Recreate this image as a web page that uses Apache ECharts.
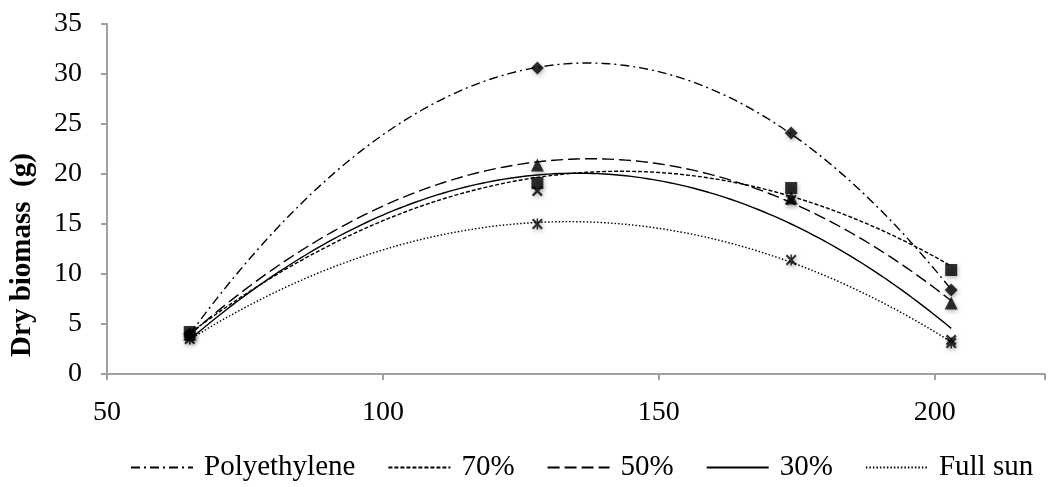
<!DOCTYPE html>
<html>
<head>
<meta charset="utf-8">
<script src="https://cdn.jsdelivr.net/npm/echarts@6/dist/echarts.min.js"></script>
<style>html,body{margin:0;padding:0;background:#fff}#c{width:1048px;height:487px}</style>
</head>
<body>
<div id="c"></div>
<script>
const xValues = [65, 128, 174, 203];
const seriesNames = ['Polyethylene', '70%', '50%', '30%', 'Full sun'];
const polyethylene = [4.0, 30.6, 24.1, 8.4];
const shade70 = [4.2, 19.1, 18.6, 10.4];
const shade50 = [4.0, 20.9, 17.6, 7.1];
const shade30 = [3.8, 18.3, 17.4, 3.4];
const fullSun = [3.5, 15.0, 11.4, 3.1];
const xTicks = [50, 100, 150, 200];
const yTicks = [0, 5, 10, 15, 20, 25, 30, 35];

const allData = [polyethylene, shade70, shade50, shade30, fullSun];
const dashes = [[9, 4, 2, 4], [4, 2], [12, 5], 'solid', [1.5, 2]];
const symbols = [
  'diamond', 'rect', 'triangle',
  'path://M0,1.5L1.5,0L5,3.5L8.5,0L10,1.5L6.5,5L10,8.5L8.5,10L5,6.5L1.5,10L0,8.5L3.5,5Z',
  'path://M0,1.4L1.4,0L4.3,2.9L4.3,0L5.7,0L5.7,2.9L8.6,0L10,1.4L6.4,5L10,8.6L8.6,10L5.7,7.1L5.7,10L4.3,10L4.3,7.1L1.4,10L0,8.6L3.6,5Z'
];
const symbolSizes = [13, 12, 13, 11, 11];

// Excel-style 2nd order polynomial trendline (least squares) fitted to the data
function quadFit(xs, ys) {
  let n = xs.length, s = [0,0,0,0,0], t = [0,0,0];
  for (let i = 0; i < n; i++) {
    let p = 1;
    for (let k = 0; k <= 4; k++) { s[k] += p; if (k <= 2) t[k] += p * ys[i]; p *= xs[i]; }
  }
  const A = [[s[0], s[1], s[2], t[0]], [s[1], s[2], s[3], t[1]], [s[2], s[3], s[4], t[2]]];
  for (let i = 0; i < 3; i++) {
    for (let j = i + 1; j < 3; j++) {
      const f = A[j][i] / A[i][i];
      for (let k = i; k < 4; k++) A[j][k] -= f * A[i][k];
    }
  }
  const c = [0, 0, 0];
  for (let i = 2; i >= 0; i--) {
    let v = A[i][3];
    for (let k = i + 1; k < 3; k++) v -= A[i][k] * c[k];
    c[i] = v / A[i][i];
  }
  return x => c[0] + c[1] * x + c[2] * x * x;
}

const series = [];
allData.forEach((ys, i) => {
  const f = quadFit(xValues, ys);
  const pts = [];
  for (let x = xValues[0]; x <= xValues[xValues.length - 1] + 1e-9; x += 1) pts.push([x, f(x)]);
  series.push({
    name: seriesNames[i], type: 'line', data: pts, symbol: 'none', smooth: false,
    itemStyle: { color: '#000' },
    lineStyle: { color: '#000', width: 1.4, type: dashes[i] }, z: 2, silent: true
  });
});
allData.forEach((ys, i) => {
  series.push({
    name: seriesNames[i] + ' data', type: 'scatter',
    data: xValues.map((x, j) => [x, ys[j]]),
    symbol: symbols[i], symbolSize: symbolSizes[i],
    itemStyle: { color: '#000', shadowBlur: 4, shadowColor: 'rgba(0,0,0,0.35)', shadowOffsetX: 1, shadowOffsetY: 2 },
    z: 3
  });
});

const font = 'Liberation Serif';
const chart = echarts.init(document.getElementById('c'), null, { renderer: 'canvas' });
chart.setOption({
  animation: false,
  backgroundColor: '#fff',
  grid: { left: 103, right: -7, top: 24, bottom: 113, containLabel: false },
  xAxis: {
    type: 'value', min: xTicks[0], max: 220, interval: 50,
    axisLine: { lineStyle: { color: '#A0A0A0', width: 2 } },
    axisTick: { show: true, length: 6, lineStyle: { color: '#A0A0A0', width: 2 } },
    splitLine: { show: false },
    axisLabel: { color: '#000', fontFamily: font, fontSize: 28, margin: 25,
      formatter: v => xTicks.includes(v) ? String(v) : '' }
  },
  yAxis: {
    type: 'value', min: yTicks[0], max: yTicks[yTicks.length - 1], interval: 5,
    name: 'Dry biomass  (g)', nameLocation: 'middle', nameGap: 70, nameRotate: 90,
    nameTextStyle: { color: '#000', fontFamily: font, fontSize: 29, fontWeight: 'bold', padding: [0, 112, 0, 0] },
    axisLine: { show: true, lineStyle: { color: '#A0A0A0', width: 2 } },
    axisTick: { show: true, length: 6, lineStyle: { color: '#A0A0A0', width: 2 } },
    splitLine: { show: false },
    axisLabel: { color: '#000', fontFamily: font, fontSize: 28, margin: 25 }
  },
  legend: {
    top: 453, left: 130, padding: 0, itemWidth: 62, itemHeight: 12, itemGap: 32,
    data: seriesNames,
    itemStyle: { opacity: 0 },
    textStyle: { color: '#000', fontFamily: font, fontSize: 29, padding: [0, 0, 0, 6] }
  },
  series: series
});
</script>
</body>
</html>
